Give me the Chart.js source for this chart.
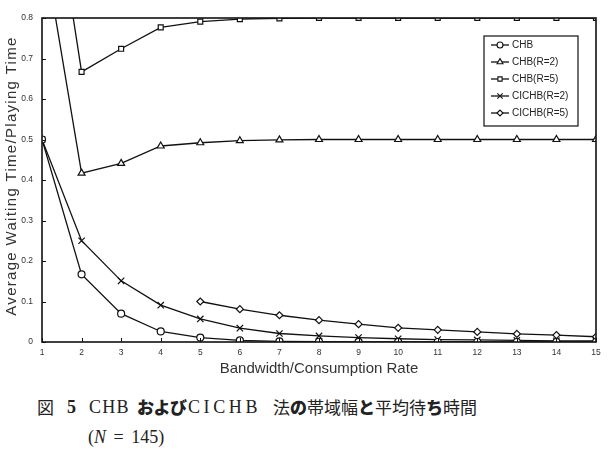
<!DOCTYPE html>
<html><head><meta charset="utf-8">
<script src="https://cdn.jsdelivr.net/npm/chart.js@4/dist/chart.umd.min.js"></script>
<style>
body{margin:0;background:#fff;width:608px;height:450px;overflow:hidden;position:relative;}
#wrap{position:absolute;left:0;top:0;width:608px;height:385px;}
.p{position:absolute;font-family:"Liberation Serif",serif;font-size:18px;color:#222;white-space:nowrap;line-height:20px;}
.j{font-family:"Noto Sans CJK JP";font-size:17px;}
.b{font-family:"Noto Sans CJK JP";font-weight:900;font-size:17px;}
</style></head><body>
<div id="wrap"><canvas id="c" width="608" height="385"></canvas></div>
<div class="p j" style="left:37px;top:397px;">図</div>
<div class="p" style="left:67px;top:397px;font-weight:bold;">5</div>
<div class="p" style="left:89px;top:397px;letter-spacing:1.3px;">CHB</div>
<div class="p b" style="left:137px;top:397px;letter-spacing:-0.5px;">および</div>
<div class="p" style="left:188px;top:397px;letter-spacing:3.6px;">CICHB</div>
<div class="p j" style="left:273px;top:397px;">法</div>
<div class="p b" style="left:290px;top:397px;">の</div>
<div class="p j" style="left:307px;top:397px;">帯域幅</div>
<div class="p b" style="left:358px;top:397px;">と</div>
<div class="p j" style="left:375px;top:397px;">平均待</div>
<div class="p b" style="left:426px;top:397px;">ち</div>
<div class="p j" style="left:443px;top:397px;">時間</div>
<div class="p" style="left:88px;top:427px;word-spacing:3px;">(<i>N</i> = 145)</div>
<script>
const xValues = [1,2,3,4,5,6,7,8,9,10,11,12,13,14,15];
const chb      = [0.5,0.167,0.07,0.026,0.011,0.004,0.0015,0.0006,0.0002,0.0001,0,0,0,0,0];
const chbR2    = [1.0,0.417,0.441,0.484,0.492,0.497,0.499,0.5,0.5,0.5,0.5,0.5,0.5,0.5,0.5];
const chbR5    = [1.3,0.667,0.724,0.777,0.791,0.797,0.799,0.8,0.8,0.8,0.8,0.8,0.8,0.8,0.8];
const cichbR2  = [0.5,0.25,0.151,0.091,0.057,0.034,0.021,0.015,0.011,0.008,0.006,0.005,0.004,0.003,0.003];
const cichbR5  = [null,null,null,null,0.1,0.081,0.066,0.054,0.044,0.035,0.03,0.025,0.02,0.017,0.013];
const seriesNames = ['CHB','CHB(R=2)','CHB(R=5)','CICHB(R=2)','CICHB(R=5)'];
const yTicks = [0,0.1,0.2,0.3,0.4,0.5,0.6,0.7,0.8];
const xTitle = 'Bandwidth/Consumption Rate';
const yTitle = 'Average Waiting Time/Playing Time';

const styles = ['circle','triangle','rect','crossRot','rectRot'];
const radii = [3.5,4,3.5,4.5,3.5];
const all = [chb,chbR2,chbR5,cichbR2,cichbR5];

const datasets = all.map((arr,i)=>({
  label: seriesNames[i],
  data: xValues.map((x,k)=>({x:x,y:arr[k]})).filter(p=>p.y!==null),
  borderColor:'#111', backgroundColor:'#fff', borderWidth:1.3,
  pointStyle: styles[i], pointRadius: radii[i], pointBorderColor:'#111',
  pointBackgroundColor:'#fff', pointBorderWidth:1.2, tension:0
}));

const L=42,T=18,R=596,B=342;
const frame = {
  id:'frame',
  afterDraw(chart){
    const c=chart.ctx, a=chart.chartArea;
    const xs=chart.scales.x, ys=chart.scales.y;
    c.save();
    c.strokeStyle='#111';c.lineWidth=1.6;
    c.strokeRect(a.left,a.top,a.right-a.left,a.bottom-a.top);
    c.lineWidth=1;
    c.beginPath();
    xValues.forEach(v=>{const px=Math.round(xs.getPixelForValue(v))+0.5;c.moveTo(px,a.bottom);c.lineTo(px,a.bottom-4);});
    yTicks.forEach(v=>{const py=Math.round(ys.getPixelForValue(v))+0.5;c.moveTo(a.left,py);c.lineTo(a.left+4,py);});
    c.stroke();
    c.fillStyle='#333';
    c.font='15px "Liberation Sans", Arial, sans-serif';
    c.letterSpacing='1.3px';
    c.textAlign='center';c.textBaseline='middle';
    c.translate(12,(a.top+a.bottom)/2-4);c.rotate(-Math.PI/2);
    c.fillText(yTitle,0,0);
    c.setTransform(1,0,0,1,0,0);
    c.letterSpacing='0px';
    const lx=484, ly=36, lw=94, lh=90;
    c.fillStyle='#fff';c.fillRect(lx,ly,lw,lh);
    c.strokeStyle='#111';c.lineWidth=1.2;c.strokeRect(lx,ly,lw,lh);
    c.font='10px "Liberation Sans", Arial, sans-serif';
    c.textAlign='left';c.textBaseline='middle';
    chart.data.datasets.forEach((ds,i)=>{
      const y=ly+9+i*17;
      c.strokeStyle='#111';c.lineWidth=1.3;
      c.beginPath();c.moveTo(lx+7,y);c.lineTo(lx+25,y);c.stroke();
      c.fillStyle='#fff';c.lineWidth=1.1;
      Chart.helpers.drawPoint(c,{pointStyle:ds.pointStyle,radius:ds.pointRadius*0.85,rotation:0,borderWidth:1.1},lx+16,y);
      c.fillStyle='#222';c.fillText(ds.label,lx+28,y+0.5);
    });
    c.restore();
  }
};

new Chart(document.getElementById('c'),{
  type:'line',
  data:{datasets},
  options:{
    responsive:false, animation:false,
    layout:{padding:{left:0,top:T,right:608-R,bottom:3}},
    plugins:{legend:{display:false},tooltip:{enabled:false}},
    scales:{
      x:{type:'linear',min:1,max:15,
        afterBuildTicks(s){s.ticks=xValues.map(v=>({value:v}));},
        afterFit(s){s.height=385-B-3;},
        grid:{display:false,drawTicks:false},border:{display:false},
        ticks:{color:'#333',font:{size:8.5,family:'"Liberation Sans", Arial'},padding:6,maxRotation:0},
        title:{display:true,text:xTitle,color:'#333',font:{size:15,family:'"Liberation Sans", Arial'},padding:{top:1}}
      },
      y:{min:0,max:0.8,
        afterBuildTicks(s){s.ticks=yTicks.map(v=>({value:v}));},
        afterFit(s){s.width=L;},
        grid:{display:false,drawTicks:false},border:{display:false},
        ticks:{color:'#333',font:{size:8.5,family:'"Liberation Sans", Arial'},padding:9,callback:v=>String(v)},
        title:{display:false}
      }
    }
  },
  plugins:[frame]
});
</script>
</body></html>
